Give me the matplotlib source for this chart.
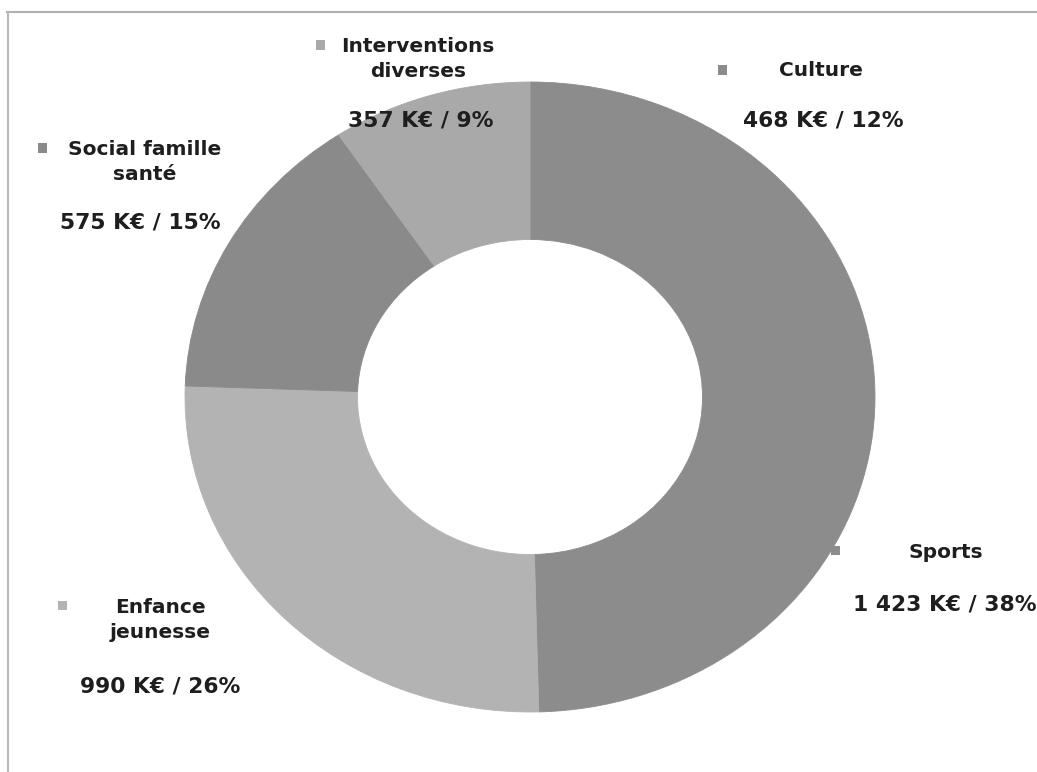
import numpy as np
import matplotlib.pyplot as plt
from matplotlib.patches import Rectangle
from matplotlib.lines import Line2D

# budget per domain, in K€ (clockwise from the top)
categories = ['Culture', 'Sports', 'Enfance\njeunesse', 'Social famille\nsanté', 'Interventions\ndiverses']
amounts = [468, 1423, 990, 575, 357]
value_labels = ['468 K€ / 12%', '1 423 K€ / 38%', '990 K€ / 26%', '575 K€ / 15%', '357 K€ / 9%']
colors = ['#8c8c8c', '#8c8c8c', '#b3b3b3', '#8a8a8a', '#a9a9a9']

W, H = 1037, 772

def fx(px):
  return px / W

def fy(py):
  return 1 - py / H

fig = plt.figure(figsize=(W / 100, H / 100), dpi=100)

# donut sits in a stretched axes so the ring comes out slightly elliptic
ax = fig.add_axes([fx(185), fy(712), 690 / W, 630 / H])
wedges, _ = ax.pie(amounts, colors=colors, startangle=90, counterclock=False,
                   radius=1.0, wedgeprops=dict(width=0.5, linewidth=0.6))
for w in wedges:
  w.set_edgecolor(w.get_facecolor())
ax.set_aspect('auto')
ax.set_xlim(-1, 1)
ax.set_ylim(-1, 1)
ax.axis('off')

# label layout: (marker x, marker y, name x, name y, value x, value y)
lbl_pos = [
  (722, 70, 821, 70, 823, 121),
  (835, 550, 946, 552, 945, 605),
  (62, 605, 160, 620, 160, 686),
  (42, 148, 145, 162, 140, 223),
  (320, 45, 418, 59, 421, 120),
]

for name, val, col, pos in zip(categories, value_labels, colors, lbl_pos):
  mx, my, nx, ny, vx, vy = pos
  fig.patches.append(Rectangle((fx(mx - 4.5), fy(my + 4.5)), 9 / W, 9 / H,
                               transform=fig.transFigure, facecolor=col,
                               edgecolor='none'))
  fig.text(fx(nx), fy(ny), name, ha='center', va='center', fontsize=14.5,
           fontweight='bold', color='#1e1e1e', linespacing=1.45)
  fig.text(fx(vx), fy(vy), val, ha='center', va='center', fontsize=15.7,
           fontweight='bold', color='#1e1e1e')

# thin frame lines along the top and left edges
fig.add_artist(Line2D([fx(7), 1], [fy(11.5), fy(11.5)], transform=fig.transFigure,
                      color='#b0b0b0', linewidth=1.5))
fig.add_artist(Line2D([fx(7.5), fx(7.5)], [0, fy(11.5)], transform=fig.transFigure,
                      color='#b8b8b8', linewidth=1.5))

fig.savefig('out.png', dpi=100, facecolor='white')
